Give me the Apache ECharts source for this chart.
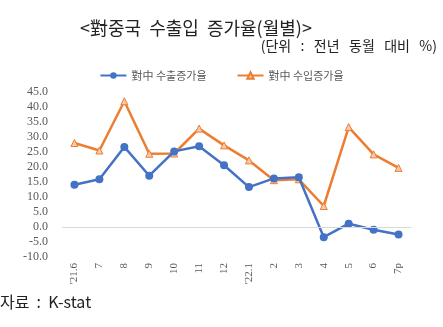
<!DOCTYPE html>
<html><head><meta charset="utf-8">
<script src="https://cdn.jsdelivr.net/npm/echarts@6/dist/echarts.min.js"></script>
<style>html,body{margin:0;padding:0;background:#fff}#c{width:443px;height:327px}</style>
</head><body><div id="c"></div>
<script>
const categories = ["'21.6","7","8","9","10","11","12","'22.1","2","3","4","5","6","7p"];
const exportGrowth = [14.1,15.9,26.7,17.1,25.2,26.9,20.6,13.3,16.2,16.6,-3.4,1.1,-0.9,-2.5];
const importGrowth = [28.0,25.5,41.9,24.4,24.5,32.8,27.2,22.2,15.6,15.9,7.0,33.3,24.2,19.7];
const seriesNames = ["對中 수출증가율","對中 수입증가율"];

const chart = echarts.init(document.getElementById('c'), null, {renderer:'canvas'});
const serif = "'Liberation Serif','DejaVu Serif',serif";
const kfont = "'Noto Sans CJK KR','Noto Sans',sans-serif";
chart.setOption({
  animation:false,
  backgroundColor:'#fff',
  title:[
    {text:'<對중국  수출입  증가율(월별)>', left:80, top:19, padding:0, textStyle:{fontFamily:kfont,fontSize:18,fontWeight:'normal',color:'#222'}},
    {text:'(단위   :   전년   동월   대비   %)', right:6, top:39, padding:0, textStyle:{fontFamily:kfont,fontSize:14,fontWeight:'normal',color:'#222'}},
    {text:'자료  :  K-stat', left:0, top:294, padding:0, textStyle:{fontFamily:kfont,fontSize:16,fontWeight:'normal',color:'#222'}}
  ],
  legend:{top:65,left:'center',itemWidth:26,itemHeight:8,itemGap:30,
    textStyle:{fontFamily:kfont,fontSize:11,color:'#595959'},data:seriesNames},
  grid:{left:62,right:32,top:92,bottom:70},
  xAxis:{type:'category',data:categories,boundaryGap:true,
    axisLine:{show:false},axisTick:{show:false},
    axisLabel:{rotate:90,fontFamily:serif,fontSize:11,color:'#595959',margin:6}},
  yAxis:{type:'value',min:-10,max:45,interval:5,
    axisLine:{show:false},axisTick:{show:false},splitLine:{show:false},
    axisLabel:{formatter:v=>v.toFixed(1),fontFamily:serif,fontSize:12,color:'#595959',margin:14}},
  series:[
    {name:seriesNames[0],type:'line',data:exportGrowth,color:'#4472C4',
     symbol:'circle',symbolSize:8,lineStyle:{width:2.5,color:'#4472C4'},itemStyle:{color:'#4472C4'},z:3,
     markLine:{silent:true,symbol:'none',label:{show:false},lineStyle:{color:'#d9d9d9',width:1,type:'solid'},data:[{yAxis:0}]}},
    {name:seriesNames[1],type:'line',data:importGrowth,color:'#ED7D31',
     symbol:'triangle',symbolSize:7,lineStyle:{width:2.5,color:'#ED7D31'},itemStyle:{color:'#F8CBAD',borderColor:'#ED7D31',borderWidth:1},z:2}
  ]
});
</script></body></html>
